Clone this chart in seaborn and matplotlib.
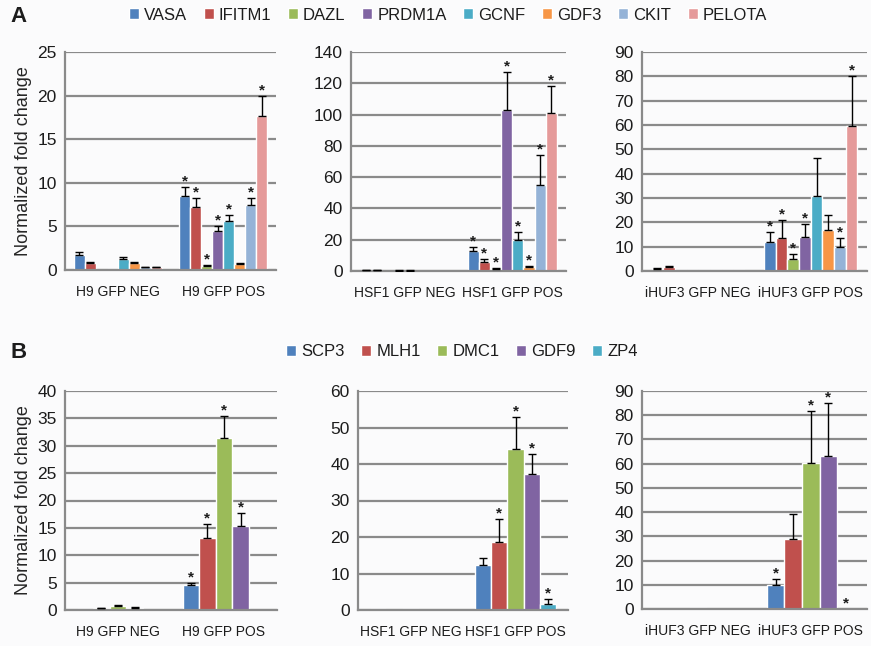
import pandas as pd
import seaborn as sns
import matplotlib.pyplot as plt

# gene sets and colours (Excel-style palette)
genes_a = ['VASA', 'IFITM1', 'DAZL', 'PRDM1A', 'GCNF', 'GDF3', 'CKIT', 'PELOTA']
colors_a = ['#4F81BD', '#C0504D', '#9BBB59', '#8064A2', '#4BACC6', '#F79646', '#95B3D7', '#E59A9A']
genes_b = ['SCP3', 'MLH1', 'DMC1', 'GDF9', 'ZP4']
colors_b = ['#4F81BD', '#C0504D', '#9BBB59', '#8064A2', '#4BACC6']

# Panel A - H9
a_h9_labels = ['H9 GFP NEG', 'H9 GFP POS']
a_h9_neg = [1.7, 0.8, 0.05, 0.1, 1.3, 0.8, 0.35, 0.3]
a_h9_neg_err = [0.4, 0.15, 0, 0, 0.2, 0.15, 0.05, 0.05]
a_h9_pos = [8.5, 7.2, 0.5, 4.5, 5.6, 0.7, 7.4, 17.7]
a_h9_pos_err = [1.0, 1.0, 0.1, 0.6, 0.7, 0.1, 0.8, 2.3]
a_h9_star = [1, 1, 1, 1, 1, 0, 1, 1]

# Panel A - HSF1
a_hsf1_labels = ['HSF1 GFP NEG', 'HSF1 GFP POS']
a_hsf1_neg = [0.5, 0.5, 0.1, 0.3, 0.3, 0.1, 0.05, 0.05]
a_hsf1_neg_err = [0.1, 0.1, 0, 0.05, 0.05, 0, 0, 0]
a_hsf1_pos = [12.5, 6.0, 1.5, 103, 20, 2.5, 55, 101]
a_hsf1_pos_err = [3.0, 1.5, 0.3, 24, 5, 0.8, 19, 17]
a_hsf1_star = [1, 1, 1, 1, 1, 1, 1, 1]

# Panel A - iHUF3
a_ihuf3_labels = ['iHUF3 GFP NEG', 'iHUF3 GFP POS']
a_ihuf3_neg = [1.0, 1.8, 0.3, 0.3, 0.3, 0.3, 0.3, 0.3]
a_ihuf3_neg_err = [0.2, 0.3, 0, 0, 0, 0, 0, 0]
a_ihuf3_pos = [12.0, 13.5, 5.0, 14.0, 31.0, 17.0, 10.0, 59.5]
a_ihuf3_pos_err = [4.0, 7.5, 2.0, 5.5, 15.5, 6.0, 3.5, 20.5]
a_ihuf3_star = [1, 1, 1, 1, 0, 0, 1, 1]

# Panel B - H9
b_h9_labels = ['H9 GFP NEG', 'H9 GFP POS']
b_h9_neg = [0.1, 0.3, 0.7, 0.4, 0.0]
b_h9_neg_err = [0, 0.05, 0.3, 0.1, 0]
b_h9_pos = [4.5, 13.2, 31.5, 15.4, 0.0]
b_h9_pos_err = [0.5, 2.5, 4.0, 2.4, 0]
b_h9_star = [1, 1, 1, 1, 0]

# Panel B - HSF1
b_hsf1_labels = ['HSF1 GFP NEG', 'HSF1 GFP POS']
b_hsf1_neg = [0.2, 0.1, 0.2, 0.1, 0.0]
b_hsf1_neg_err = [0, 0, 0, 0, 0]
b_hsf1_pos = [12.2, 18.5, 44.0, 37.3, 1.7]
b_hsf1_pos_err = [2.0, 6.3, 9.0, 5.5, 1.3]
b_hsf1_star = [0, 1, 1, 1, 1]

# Panel B - iHUF3
b_ihuf3_labels = ['iHUF3 GFP NEG', 'iHUF3 GFP POS']
b_ihuf3_neg = [0.0, 0.0, 0.3, 0.0, 0.0]
b_ihuf3_neg_err = [0, 0, 0, 0, 0]
b_ihuf3_pos = [9.8, 28.8, 60.2, 63.0, 0.0]
b_ihuf3_pos_err = [2.5, 10.5, 21.5, 22.0, 0]
b_ihuf3_star = [1, 0, 1, 1, 1]

sns.set_style('white')
plt.rcParams['font.family'] = ['Liberation Sans', 'DejaVu Sans']
plt.rcParams['text.color'] = '#1c1c1c'
plt.rcParams['xtick.color'] = '#1c1c1c'
plt.rcParams['ytick.color'] = '#1c1c1c'

grid_col = '#8a8a8a'
fig = plt.figure(figsize=(8.71, 6.46), dpi=100, facecolor='#fbfbfc')
W, H = 871, 646


def add_ax(x0, y_top, x1, y_bot):
    return fig.add_axes([x0 / W, 1 - y_bot / H, (x1 - x0) / W, (y_bot - y_top) / H])


panels = [
    (add_ax(65, 52, 276, 270), genes_a, colors_a, a_h9_labels, a_h9_neg, a_h9_neg_err,
     a_h9_pos, a_h9_pos_err, a_h9_star, 25, 5, True, 0.83),
    (add_ax(351, 52, 566, 271), genes_a, colors_a, a_hsf1_labels, a_hsf1_neg, a_hsf1_neg_err,
     a_hsf1_pos, a_hsf1_pos_err, a_hsf1_star, 140, 20, False, 0.83),
    (add_ax(642, 52, 867, 271), genes_a, colors_a, a_ihuf3_labels, a_ihuf3_neg, a_ihuf3_neg_err,
     a_ihuf3_pos, a_ihuf3_pos_err, a_ihuf3_star, 90, 10, False, 0.83),
    (add_ax(65, 391, 277, 610), genes_b, colors_b, b_h9_labels, b_h9_neg, b_h9_neg_err,
     b_h9_pos, b_h9_pos_err, b_h9_star, 40, 5, True, 0.78),
    (add_ax(358, 391, 568, 610), genes_b, colors_b, b_hsf1_labels, b_hsf1_neg, b_hsf1_neg_err,
     b_hsf1_pos, b_hsf1_pos_err, b_hsf1_star, 60, 10, False, 0.78),
    (add_ax(642, 391, 867, 609), genes_b, colors_b, b_ihuf3_labels, b_ihuf3_neg, b_ihuf3_neg_err,
     b_ihuf3_pos, b_ihuf3_pos_err, b_ihuf3_star, 90, 10, False, 0.78),
]

legend_handles = {}
for (ax, genes, colors, labels, neg, neg_err, pos, pos_err, star, ymax, step, ylab, bw) in panels:
    df = pd.DataFrame({
        'sample': [labels[0]] * len(genes) + [labels[1]] * len(genes),
        'gene': genes + genes,
        'value': neg + pos,
    })
    sns.barplot(data=df, x='sample', y='value', hue='gene', hue_order=genes, order=labels,
                palette=colors, saturation=1, width=bw, errorbar=None, ax=ax, legend=True)
    h, l = ax.get_legend_handles_labels()
    legend_handles[tuple(genes)] = (h, l)
    ax.get_legend().remove()

    errs = [neg_err, pos_err]
    bar_conts = list(ax.containers)
    for i, cont in enumerate(bar_conts):
        for j, bar in enumerate(cont):
            x = bar.get_x() + bar.get_width() / 2
            top = bar.get_height()
            e = errs[j][i]
            if e > 0:
                ax.errorbar(x, top, yerr=[[0], [e]], fmt='none', ecolor='black',
                            elinewidth=1, capsize=3, capthick=1, zorder=4)
            if j == 1 and star[i]:
                ax.annotate('*', (x, top + e), xytext=(0, 4), textcoords='offset points',
                            ha='center', va='center', fontsize=11, fontweight='bold',
                            annotation_clip=False)

    ax.set_facecolor('none')
    ax.set_ylim(0, ymax)
    ax.set_xlim(-0.5, 1.5)
    ax.set_yticks(list(range(0, ymax + 1, step)))
    ax.yaxis.grid(True, color=grid_col, linewidth=1.6)
    ax.set_axisbelow(True)
    for s in ['top', 'right']:
        ax.spines[s].set_visible(False)
    for s in ['left', 'bottom']:
        ax.spines[s].set_color(grid_col)
        ax.spines[s].set_linewidth(1.6)
    ax.tick_params(axis='y', length=0, labelsize=12.5, pad=6)
    ax.tick_params(axis='x', which='major', length=0, labelsize=10, pad=11)
    ax.set_xticks([-0.5, 0.5, 1.5], minor=True)
    ax.tick_params(axis='x', which='minor', length=5, width=1.6, color=grid_col)
    ax.set_xlabel('')
    if ylab:
        ax.set_ylabel('Normalized fold change', fontsize=13, labelpad=4)
    else:
        ax.set_ylabel('')

h, l = legend_handles[tuple(genes_a)]
fig.legend(h, l, loc='center', bbox_to_anchor=(448 / W, 1 - 15 / H), ncol=8, frameon=False,
           fontsize=12, handlelength=0.6, handleheight=0.6, handletextpad=0.3, columnspacing=1.0)
h, l = legend_handles[tuple(genes_b)]
fig.legend(h, l, loc='center', bbox_to_anchor=(462 / W, 1 - 352 / H), ncol=5, frameon=False,
           fontsize=12, handlelength=0.6, handleheight=0.6, handletextpad=0.3, columnspacing=1.0)

fig.text(10 / W, 1 - 17 / H, 'A', fontsize=16, fontweight='bold', va='center')
fig.text(10 / W, 1 - 352 / H, 'B', fontsize=16, fontweight='bold', va='center')

fig.savefig('out.png', dpi=100, facecolor=fig.get_facecolor())
